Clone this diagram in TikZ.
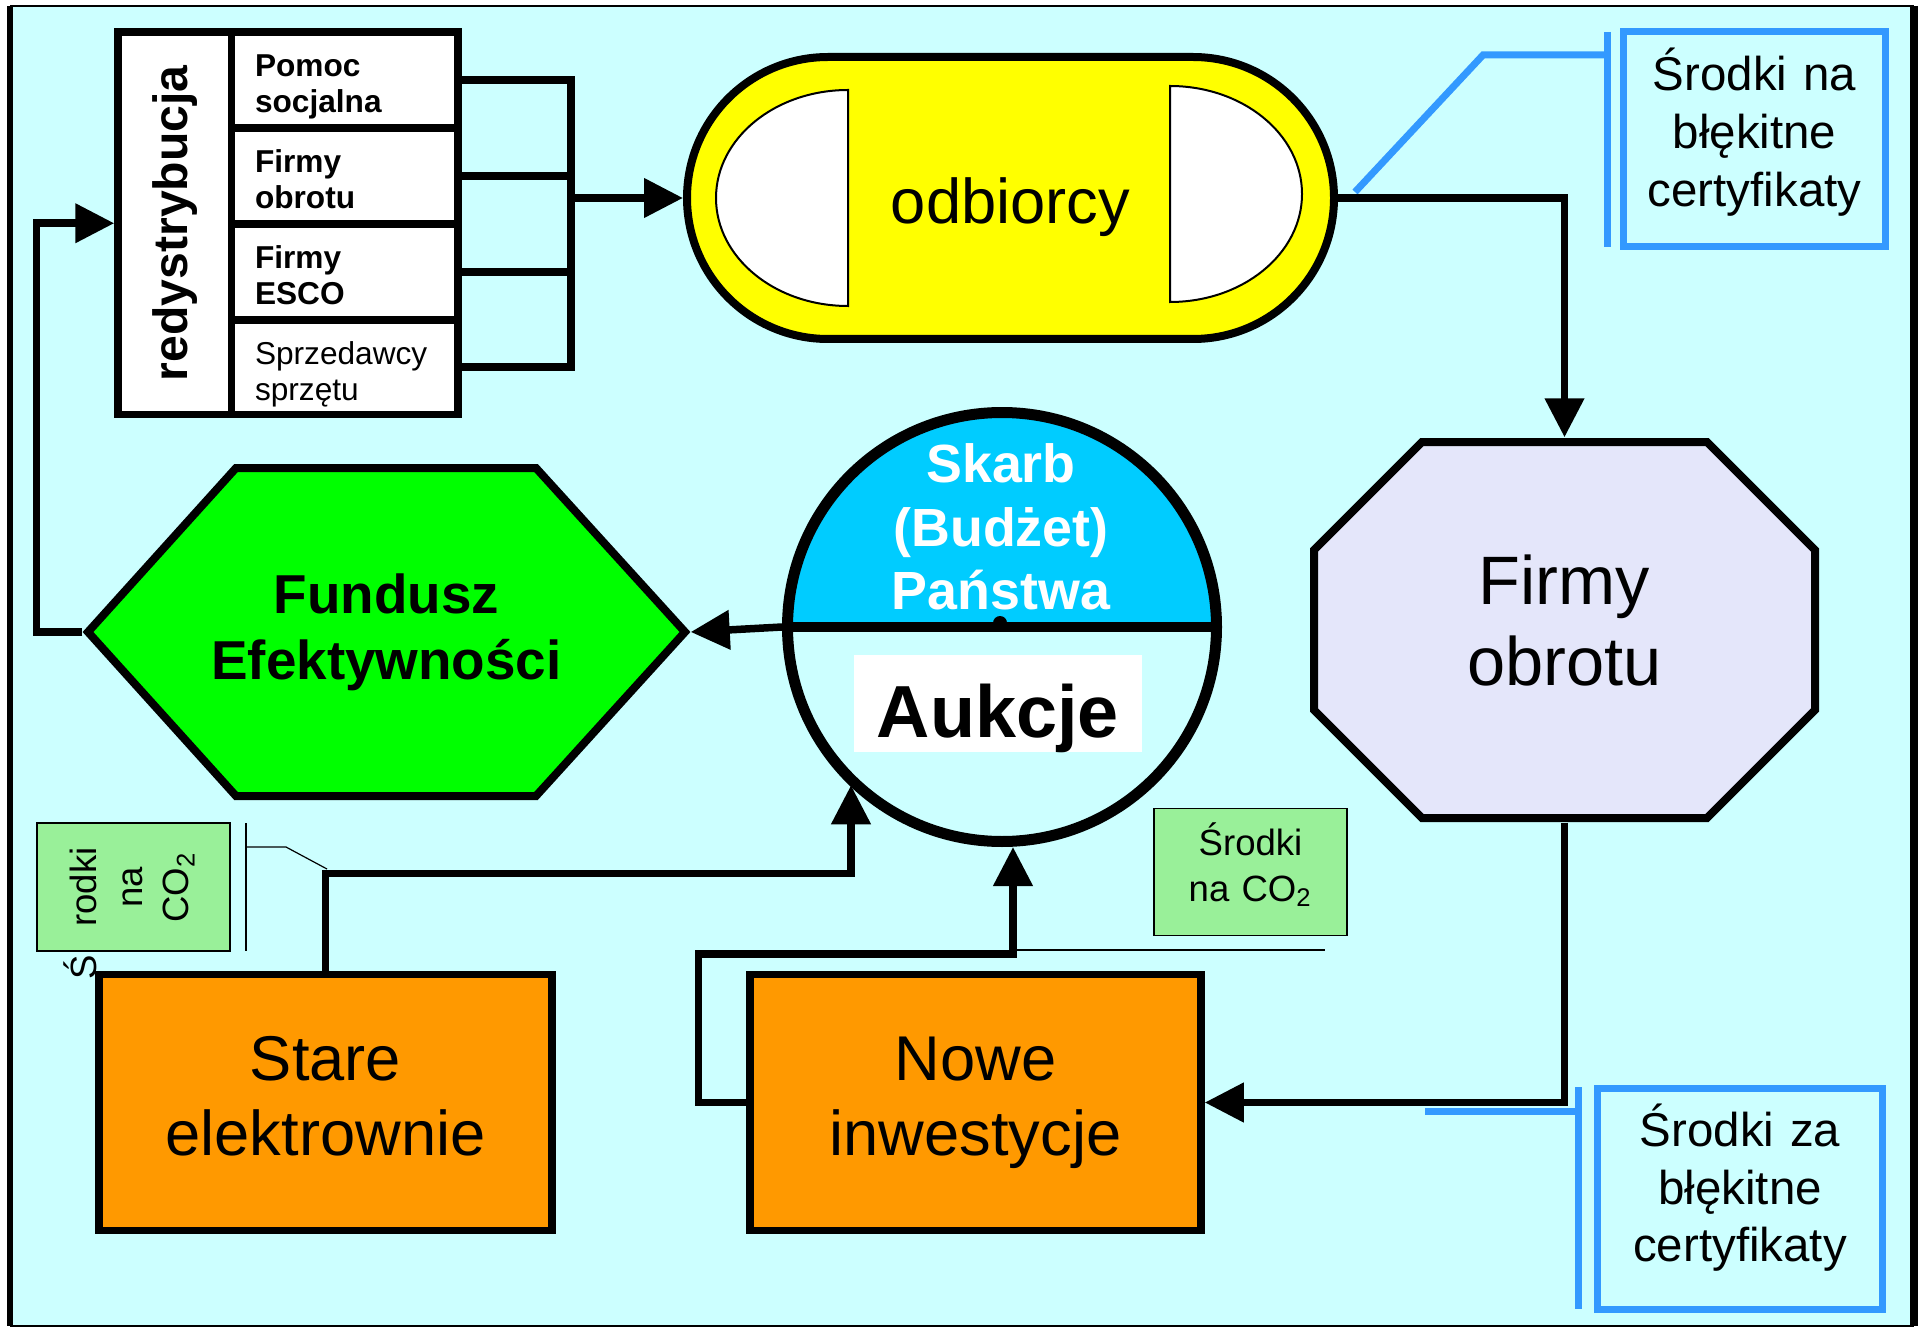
\documentclass[tikz,border=0pt]{standalone}
\usepackage{fontspec}
\usepackage{graphicx}
\setmainfont{Liberation Sans}
\usetikzlibrary{positioning}
\usetikzlibrary{calc}
\usetikzlibrary{arrows.meta}
\usetikzlibrary{shapes.misc}

\definecolor{tlo}{RGB}{204,255,255}
\definecolor{zolty}{RGB}{255,255,0}
\definecolor{zielony}{RGB}{0,255,0}
\definecolor{pomarancz}{RGB}{255,153,0}
\definecolor{skarb}{RGB}{0,204,255}
\definecolor{lawenda}{RGB}{228,230,250}
\definecolor{niebieski}{RGB}{51,153,255}
\definecolor{jasnozielony}{RGB}{153,240,153}

\begin{document}
\begin{tikzpicture}[x=0.1mm, y=-0.1mm,
    ROW/.style={rectangle, draw=black, fill=white, line width=0.75mm, minimum width=22.65mm, minimum height=9.6mm, text width=17.95mm, inner xsep=2.35mm, inner ysep=0pt, text height=2.3mm, text depth=2.9mm, align=left, font=\fontsize{9}{10.2}\selectfont\bfseries},
    ORANGE/.style={rectangle, draw=black, fill=pomarancz, line width=0.75mm, minimum width=45.3mm, minimum height=25.6mm, inner sep=0pt, text width=40mm, text height=10.55mm, text depth=15.05mm, align=center, font=\fontsize{18}{21.6}\selectfont},
    BLUE/.style={rectangle, draw=niebieski, line width=0.7mm, align=center, inner sep=0pt, text width=24mm, font=\fontsize{13.5}{16.4}\selectfont},
    GREEN/.style={rectangle, draw=black, fill=jasnozielony, line width=0.12mm, minimum width=19.3mm, minimum height=12.7mm, inner sep=0pt, align=center, font=\fontsize{10.4}{13.1}\selectfont},
    LINE/.style={line width=0.75mm},
    ARR/.style={line width=0.75mm, -{Triangle[length=3.9mm, width=3.8mm]}},
    BLUELINE/.style={draw=niebieski, line width=0.7mm},
    THIN/.style={line width=0.12mm},
    ]
    \useasboundingbox (0,0) rectangle (1927,1330);
    % tlo i ramka
    \fill[white] (0,0) rectangle (1927,1330);
    \fill[tlo] (10,6) rectangle (1914,1326);
    \draw[THIN] (10,6) -- (1914,6);
    \draw[THIN] (10,1326) -- (1914,1326);
    \draw[line width=0.65mm] (10,6) -- (10,1326);
    \draw[line width=0.8mm] (1914,6) -- (1914,1326);

    % redystrybucja
    \node[rectangle, draw=black, fill=white, line width=0.75mm, minimum width=11.35mm, minimum height=38.25mm, inner sep=0pt,
          font=\fontsize{13.7}{16}\selectfont\bfseries] (redys) at (174.75,223.25) {\rotatebox{90}{redystrybucja}};
    \node[ROW] (r1) at (344.75,80) {Pomoc\\socjalna};
    \node[ROW] (r2) at (344.75,176) {Firmy\\obrotu};
    \node[ROW] (r3) at (344.75,272) {Firmy\\ESCO};
    \node[ROW, minimum height=9.45mm, font=\fontsize{9}{10.2}\selectfont] (r4) at (344.75,367.25) {Sprzedawcy\\sprzętu};

    % odbiorcy
    \node[rounded rectangle, draw=black, fill=zolty, line width=0.8mm, minimum width=64.7mm, minimum height=28.2mm, inner sep=0pt,
          text height=5.8mm, text depth=0.6mm, font=\fontsize{18}{21}\selectfont] (odb) at (1010.5,198) {odbiorcy};
    \draw[line width=0.2mm, fill=white] (848,90) arc (270:90:132 and 108) -- cycle;
    \draw[line width=0.2mm, fill=white] (1170,86) arc (-90:90:132 and 108) -- cycle;

    % blekitne certyfikaty
    \node[BLUE, minimum width=26.2mm, minimum height=21.5mm, text height=5.95mm, text depth=15.55mm] (cert1) at (1754.5,139) {Środki na\\błękitne\\certyfikaty};
    \coordinate (c1a) at (1607,55);
    \coordinate (c1b) at (1483,55);
    \coordinate (c1c) at (1355,192);
    \draw[BLUELINE] (1607,32) -- (1607,247);
    \draw[BLUELINE] (c1a) -- (c1b) -- (c1c);

    \node[BLUE, minimum width=28.5mm, minimum height=22.1mm, text height=5.82mm, text depth=16.28mm] (cert2) at (1740,1199) {Środki za\\błękitne\\certyfikaty};
    \coordinate (c2a) at (1578.5,1111);
    \coordinate (c2b) at (1425,1111);
    \draw[BLUELINE] (1578.5,1087) -- (1578.5,1309);
    \draw[BLUELINE] (c2a) -- (c2b);

    % firmy obrotu
    \fill[lawenda] (1422,442) -- (1707,442) -- (1815,550) -- (1815,710) -- (1707,818) -- (1422,818) -- (1314,710) -- (1314,550) -- cycle;
    \draw[line width=0.8mm] (1422,442) -- (1707,442) -- (1815,550) -- (1815,710) -- (1707,818) -- (1422,818) -- (1314,710) -- (1314,550) -- cycle;
    \node[minimum width=50.9mm, minimum height=38.4mm, inner sep=0pt, align=center, text width=30mm, text height=16.6mm, text depth=21.8mm,
          font=\fontsize{19.5}{23.3}\selectfont] (fo) at (1564.5,630) {Firmy\\obrotu};

    % fundusz
    \draw[line width=0.8mm, fill=zielony] (88,632) -- (236,468) -- (536,468) -- (685,632) -- (536,796) -- (236,796) -- cycle;
    \node[minimum width=60.7mm, minimum height=33.6mm, inner sep=0pt, align=center,
          font=\fontsize{15.6}{18.8}\selectfont\bfseries] (fund) at (386.5,632) {Fundusz\\Efektywności};

    % skarb / aukcje
    \fill[skarb] (787.5,627) arc (180:360:214.5) -- cycle;
    \node[circle, draw=black, line width=1.1mm, minimum size=42.9mm, inner sep=0pt] (auk) at (1002,627) {};
    \draw[line width=1mm] (auk.west) -- (auk.east);
    \fill (1000,623) circle (7);
    \node[text=white, align=center, font=\fontsize{15.3}{18.1}\selectfont\bfseries] (skarbt) at (1001,527) {Skarb\\(Budżet)\\Państwa};
    \node[fill=white, minimum width=28.8mm, minimum height=9.7mm, inner sep=0pt, text height=8.2mm, text depth=1.5mm,
          font=\fontsize{21}{24}\selectfont\bfseries] (aukt) at (998,703.5) {Aukcje};

    % elektrownie
    \node[ORANGE] (stare) at (325.5,1102.5) {Stare\\elektrownie};
    \node[ORANGE, minimum width=45.1mm] (nowe) at (975.5,1102.5) {Nowe\\inwestycje};

    % srodki na CO2
    \node[GREEN, text width=17mm, text height=4.65mm, text depth=8.05mm] (co2b) at (1250.5,872) {Środki\\na CO\textsubscript{2}};
    \node[GREEN, minimum height=12.8mm] (co2a) at (133.5,887) {\rotatebox{90}{\begin{tabular}{@{}c@{}}rodki\\na\\CO\textsubscript{2}\end{tabular}}};
    \node[rotate=90, inner sep=0pt, font=\fontsize{10.4}{13}\selectfont] (sacc) at (80,967) {Ś};
    \draw[THIN] (246,823) -- (246,951);
    \draw[THIN] (246,847) -- (286,847) -- (327,869);
    \draw[THIN] (1013,950) -- (1325,950);

    % polaczenia
    \coordinate (bus) at (571,0);
    \coordinate (j1) at (851,873.5);
    \coordinate (j2) at (1013,954);
    \draw[LINE] (r1.east) -- (r1.east -| bus) -- (r4.east -| bus) -- (r4.east);
    \draw[LINE] (r2.east) -- (r2.east -| bus);
    \draw[LINE] (r3.east) -- (r3.east -| bus);
    \draw[ARR] (odb.west -| bus) -- (odb.west);
    \draw[ARR] (odb.east) -| (fo.north);
    \draw[ARR] (fo.south) |- (nowe.east);
    \draw[ARR] (nowe.west) -- ++(-48,0) |- (j2) -- (j2 |- auk.south);
    \draw[ARR] (stare.north) |- (j1) -- (j1 |- auk.226.5);
    \draw[ARR] (auk.west) -- (fund.east);
    \draw[ARR] (fund.west) -- ++(-46,0) |- (redys.west);
\end{tikzpicture}
\end{document}
